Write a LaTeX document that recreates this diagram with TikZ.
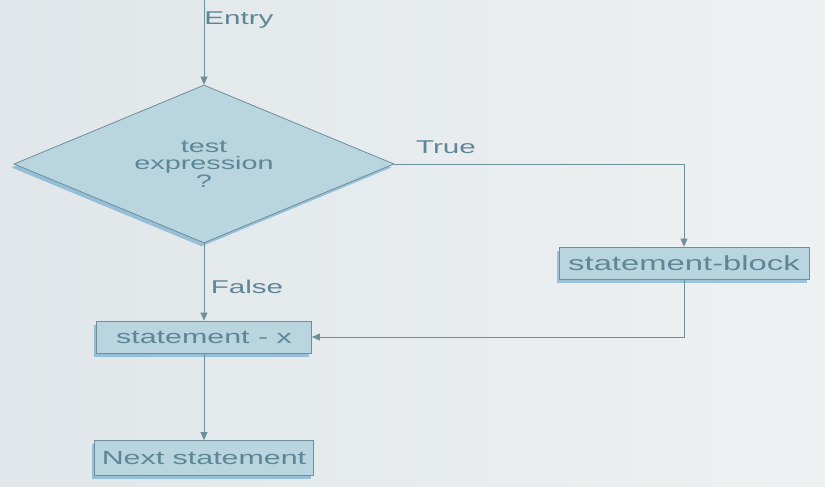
\documentclass[tikz,border=0pt]{standalone}
\usepackage{fontspec}
\setmainfont{Liberation Sans}[FakeStretch=1.6]
\usetikzlibrary{shapes.geometric,arrows.meta,shadows}

\definecolor{paper}{HTML}{EEF1F2}
\definecolor{paperdark}{HTML}{E0E6E9}
\definecolor{boxfill}{HTML}{B9D5E0}
\definecolor{edgecol}{HTML}{6F8E9B}
\definecolor{inkcol}{HTML}{5E8697}
\definecolor{shadowblue}{HTML}{4A98C6}

\tikzset{
  flowshadow/.style={drop shadow={shadow xshift=-2.5pt, shadow yshift=-3.5pt,
      fill=shadowblue, opacity=0.5}},
  decision/.style={diamond, draw=edgecol, line width=0.8pt, fill=boxfill,
      inner sep=0pt, aspect=2.4, minimum width=380pt, minimum height=158pt,
      align=center, text=inkcol, font=\fontsize{18}{17.5}\selectfont, flowshadow},
  stmt/.style={rectangle, draw=edgecol, line width=0.8pt, fill=boxfill,
      inner xsep=3pt, inner ysep=0pt, minimum height=32pt, text=inkcol,
      font=\fontsize{19}{19}\selectfont, flowshadow},
  flowlabel/.style={text=inkcol, font=\fontsize{18.5}{18.5}\selectfont},
  flowarrow/.style={draw=edgecol, line width=0.8pt,
      -{Triangle[width=7pt,length=8pt]}},
}

\begin{document}
\begin{tikzpicture}[x=1pt,y=-1pt]
  % paper background
  \shade[left color=paperdark, right color=paper] (0,0) rectangle (825,487);
  \useasboundingbox (0,0) rectangle (825,487);

  % nodes
  \coordinate (entry) at (204,0);
  \node[decision] (test) at (204,164) {test\\expression\\?};
  \node[stmt, minimum width=250pt, font=\fontsize{20.5}{20.5}\selectfont]
      (blk) at (684,263) {statement-block};
  \node[stmt, minimum width=215pt] (sx) at (204,337) {statement - x};
  \node[stmt, minimum width=219pt, minimum height=35pt] (nxt) at (204,458) {Next statement};

  % connectors
  \draw[flowarrow] (entry) -- (test.north);
  \draw[flowarrow] (test.east) -| (blk.north);
  \draw[flowarrow] (test.south) -- (sx.north);
  \draw[flowarrow] (blk.south) |- (sx.east);
  \draw[flowarrow] (sx.south) -- (nxt.north);

  % labels
  \node[flowlabel] (lentry) at (239,20) {Entry};
  \node[flowlabel] (ltrue) at (446,147) {True};
  \node[flowlabel] (lfalse) at (247,287) {False};
\end{tikzpicture}
\end{document}
